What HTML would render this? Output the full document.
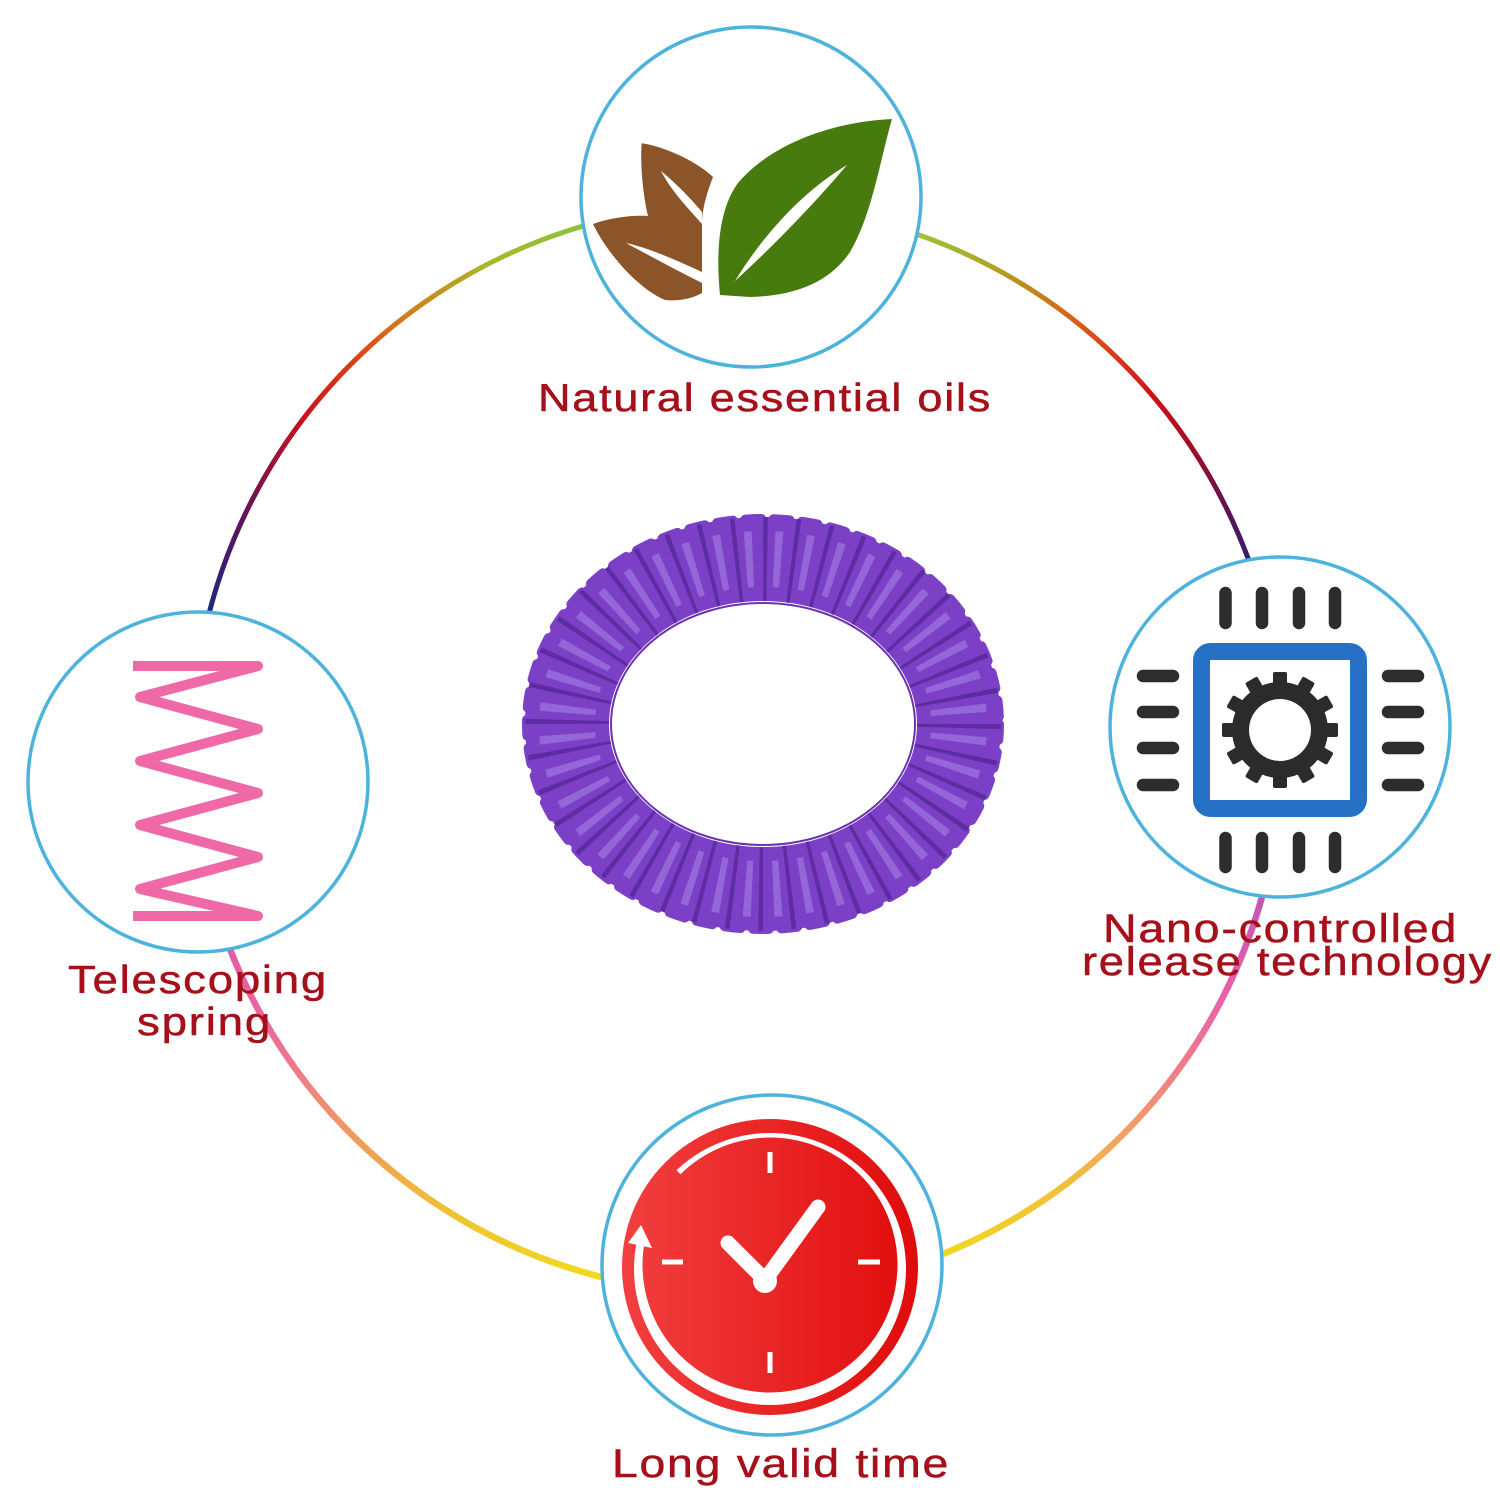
<!DOCTYPE html>
<html>
<head>
<meta charset="utf-8">
<style>
html,body{margin:0;padding:0;background:#ffffff;}
svg{display:block;}
text{font-family:"Liberation Sans",Arial,sans-serif;fill:#a5101a;stroke:#a5101a;stroke-width:0.5;}
</style>
</head>
<body>
<svg width="1500" height="1500" viewBox="0 0 1500 1500" xmlns="http://www.w3.org/2000/svg">
  <defs>
    <linearGradient id="gTL" gradientUnits="userSpaceOnUse" x1="207" y1="612" x2="582" y2="227">
      <stop offset="0" stop-color="#1b2a7a"/>
      <stop offset="0.165" stop-color="#5c1460"/>
      <stop offset="0.38" stop-color="#c8101c"/>
      <stop offset="0.535" stop-color="#e0401a"/>
      <stop offset="0.617" stop-color="#d8701a"/>
      <stop offset="0.827" stop-color="#a8b828"/>
      <stop offset="1" stop-color="#8cc43a"/>
    </linearGradient>
    <linearGradient id="gTR" gradientUnits="userSpaceOnUse" x1="917" y1="233" x2="1247" y2="558">
      <stop offset="0" stop-color="#9cc43a"/>
      <stop offset="0.188" stop-color="#b0a020"/>
      <stop offset="0.382" stop-color="#d86018"/>
      <stop offset="0.611" stop-color="#d0101a"/>
      <stop offset="0.753" stop-color="#a00c28"/>
      <stop offset="0.907" stop-color="#5a1458"/>
      <stop offset="1" stop-color="#3a1a6a"/>
    </linearGradient>
    <linearGradient id="gBR" gradientUnits="userSpaceOnUse" x1="1263" y1="898" x2="942" y2="1253">
      <stop offset="0" stop-color="#c855b5"/>
      <stop offset="0.214" stop-color="#e862a8"/>
      <stop offset="0.408" stop-color="#f08282"/>
      <stop offset="0.557" stop-color="#f2a062"/>
      <stop offset="0.733" stop-color="#f0c23a"/>
      <stop offset="1" stop-color="#f0d81e"/>
    </linearGradient>
    <linearGradient id="gBL" gradientUnits="userSpaceOnUse" x1="230" y1="948" x2="602" y2="1277">
      <stop offset="0" stop-color="#e85aa8"/>
      <stop offset="0.183" stop-color="#ec6c98"/>
      <stop offset="0.339" stop-color="#f08a78"/>
      <stop offset="0.485" stop-color="#f0a250"/>
      <stop offset="0.695" stop-color="#f0c430"/>
      <stop offset="1" stop-color="#f0da1e"/>
    </linearGradient>
    <linearGradient id="gRed" gradientUnits="userSpaceOnUse" x1="622" y1="0" x2="918" y2="0">
      <stop offset="0" stop-color="#f23f3f"/>
      <stop offset="1" stop-color="#e00c0c"/>
    </linearGradient>
  </defs>

  <!-- big ring arcs -->
  <path d="M193,782 A545,545 0 0,1 751,204" fill="none" stroke="url(#gTL)" stroke-width="5"/>
  <path d="M751,204 A545,545 0 0,1 1282,727" fill="none" stroke="url(#gTR)" stroke-width="5"/>
  <path d="M1282,727 A545,545 0 0,1 774,1293" fill="none" stroke="url(#gBR)" stroke-width="6.5"/>
  <path d="M774,1293 A545,545 0 0,1 193,782" fill="none" stroke="url(#gBL)" stroke-width="6.5"/>

  <!-- small circles -->
  <circle cx="751" cy="197" r="170" fill="#ffffff" stroke="#4db3dd" stroke-width="3.5"/>
  <circle cx="1280" cy="727" r="170" fill="#ffffff" stroke="#4db3dd" stroke-width="3.5"/>
  <circle cx="198" cy="782" r="170" fill="#ffffff" stroke="#4db3dd" stroke-width="3.5"/>
  <circle cx="772" cy="1265" r="170" fill="#ffffff" stroke="#4db3dd" stroke-width="3.5"/>

  <!-- leaves -->
  <path d="M641.7,143.3 C662,146 695,160 713,177 C708,190 703,205 702,220 L702,293 C690,300 675,301 665,300 C640,290 608,255 593,224 C610,218 630,215 648,216 C643,195 640,165 641.7,143.3 Z" fill="#8b5529"/>
  <path d="M661,171 C678,185 692,200 702,212 L702,224 C688,208 672,192 661,171 Z" fill="#ffffff"/>
  <path d="M626,243 C650,248 680,262 702,272 L702,283 C676,270 650,256 626,243 Z" fill="#ffffff"/>
  <path d="M720,295 C716,255 718,210 738,183 C770,145 830,122 892,119 C880,160 872,215 850,252 C828,285 790,296 750,297 L720,295 Z" fill="#477b0e"/>
  <path d="M735,281 C765,232 805,190 847,165 C816.5,201 776.5,243 735,281 Z" fill="#ffffff"/>

  <!-- chip -->
  <g stroke="#2d2d2d" stroke-width="12.5" stroke-linecap="round">
    <line x1="1225.5" y1="593" x2="1225.5" y2="623"/>
    <line x1="1262" y1="593" x2="1262" y2="623"/>
    <line x1="1299" y1="593" x2="1299" y2="623"/>
    <line x1="1335" y1="593" x2="1335" y2="623"/>
    <line x1="1225.5" y1="838" x2="1225.5" y2="867"/>
    <line x1="1262" y1="838" x2="1262" y2="867"/>
    <line x1="1299" y1="838" x2="1299" y2="867"/>
    <line x1="1335" y1="838" x2="1335" y2="867"/>
    <line x1="1143" y1="676" x2="1173" y2="676"/>
    <line x1="1143" y1="712" x2="1173" y2="712"/>
    <line x1="1143" y1="748" x2="1173" y2="748"/>
    <line x1="1143" y1="785" x2="1173" y2="785"/>
    <line x1="1388" y1="676" x2="1418" y2="676"/>
    <line x1="1388" y1="712" x2="1418" y2="712"/>
    <line x1="1388" y1="748" x2="1418" y2="748"/>
    <line x1="1388" y1="785" x2="1418" y2="785"/>
  </g>
  <rect x="1201.5" y="651.5" width="157" height="157" rx="9" fill="#ffffff" stroke="#2670c6" stroke-width="17"/>
  <g transform="translate(1280,730)" fill="#2b2b2b">
    <circle cx="0" cy="0" r="48"/>
    <rect x="-7" y="-58" width="14" height="16" rx="2"/>
    <rect x="-7" y="-58" width="14" height="16" rx="2" transform="rotate(30)"/>
    <rect x="-7" y="-58" width="14" height="16" rx="2" transform="rotate(60)"/>
    <rect x="-7" y="-58" width="14" height="16" rx="2" transform="rotate(90)"/>
    <rect x="-7" y="-58" width="14" height="16" rx="2" transform="rotate(120)"/>
    <rect x="-7" y="-58" width="14" height="16" rx="2" transform="rotate(150)"/>
    <rect x="-7" y="-58" width="14" height="16" rx="2" transform="rotate(180)"/>
    <rect x="-7" y="-58" width="14" height="16" rx="2" transform="rotate(210)"/>
    <rect x="-7" y="-58" width="14" height="16" rx="2" transform="rotate(240)"/>
    <rect x="-7" y="-58" width="14" height="16" rx="2" transform="rotate(270)"/>
    <rect x="-7" y="-58" width="14" height="16" rx="2" transform="rotate(300)"/>
    <rect x="-7" y="-58" width="14" height="16" rx="2" transform="rotate(330)"/>
    <circle cx="0" cy="0" r="31" fill="#ffffff"/>
  </g>

  <!-- spring -->
  <polyline points="133,666 258,666 140,697 258,729 140,761 258,793 140,825 258,857 140,889 258,916 133,916" fill="none" stroke="#ef69a7" stroke-width="10" stroke-linejoin="round" stroke-linecap="butt"/>

  <!-- clock -->
  <circle cx="770" cy="1267" r="148" fill="url(#gRed)"/>
  <path fill-rule="evenodd" fill="#ffffff" d="M634,1269 a136,136 0 1,0 272,0 a136,136 0 1,0 -272,0 Z M642.5,1265 a127.5,127.5 0 1,0 255,0 a127.5,127.5 0 1,0 -255,0 Z"/>
  <polygon points="626.7,1239.1 668.6,1162 688,1182.1 654.2,1244.5" fill="url(#gRed)"/>
  <polygon points="641,1225 628,1243 652,1248" fill="#ffffff"/>
  <g stroke="#ffffff" stroke-width="5">
    <line x1="770" y1="1152" x2="770" y2="1173"/>
    <line x1="770" y1="1352" x2="770" y2="1373"/>
    <line x1="662" y1="1262" x2="683" y2="1262"/>
    <line x1="858" y1="1262" x2="880" y2="1262"/>
  </g>
  <polyline points="728,1243 765,1280 818,1207" fill="none" stroke="#ffffff" stroke-width="15" stroke-linecap="round" stroke-linejoin="round"/>
  <circle cx="765" cy="1281" r="12" fill="#ffffff"/>

  <!-- bracelet -->
  <ellipse cx="763" cy="724" rx="236" ry="205" fill="none" stroke="#7c40c6" stroke-width="10" stroke-dasharray="16 12.4" stroke-linecap="round"/>
  <ellipse cx="763" cy="724" rx="196" ry="165" fill="none" stroke="#7c40c6" stroke-width="84"/>
  <ellipse cx="763" cy="724" rx="196" ry="165" fill="none" stroke="#5e2ca2" stroke-width="84" stroke-dasharray="4 24.4"/>
  <ellipse cx="763" cy="724" rx="196" ry="165" fill="none" stroke="#9466d8" stroke-width="56" stroke-dasharray="7 21.4" stroke-dashoffset="-11"/>
  <ellipse cx="763" cy="724" rx="152" ry="121" fill="none" stroke="#6a34b0" stroke-width="2"/>

  <!-- labels -->
  <text x="538" y="411" font-size="39" letter-spacing="1.5" textLength="454" lengthAdjust="spacingAndGlyphs">Natural essential oils</text>
  <text x="1103" y="942" font-size="40" letter-spacing="1.5" textLength="355" lengthAdjust="spacingAndGlyphs">Nano-controlled</text>
  <text x="1082" y="975" font-size="40" letter-spacing="1.5" textLength="411" lengthAdjust="spacingAndGlyphs">release technology</text>
  <text x="68" y="993" font-size="39" letter-spacing="1.5" textLength="260" lengthAdjust="spacingAndGlyphs">Telescoping</text>
  <text x="137" y="1035" font-size="39" letter-spacing="1.5" textLength="135" lengthAdjust="spacingAndGlyphs">spring</text>
  <text x="612" y="1477" font-size="40" letter-spacing="1.5" textLength="338" lengthAdjust="spacingAndGlyphs">Long valid time</text>
</svg>
</body>
</html>
